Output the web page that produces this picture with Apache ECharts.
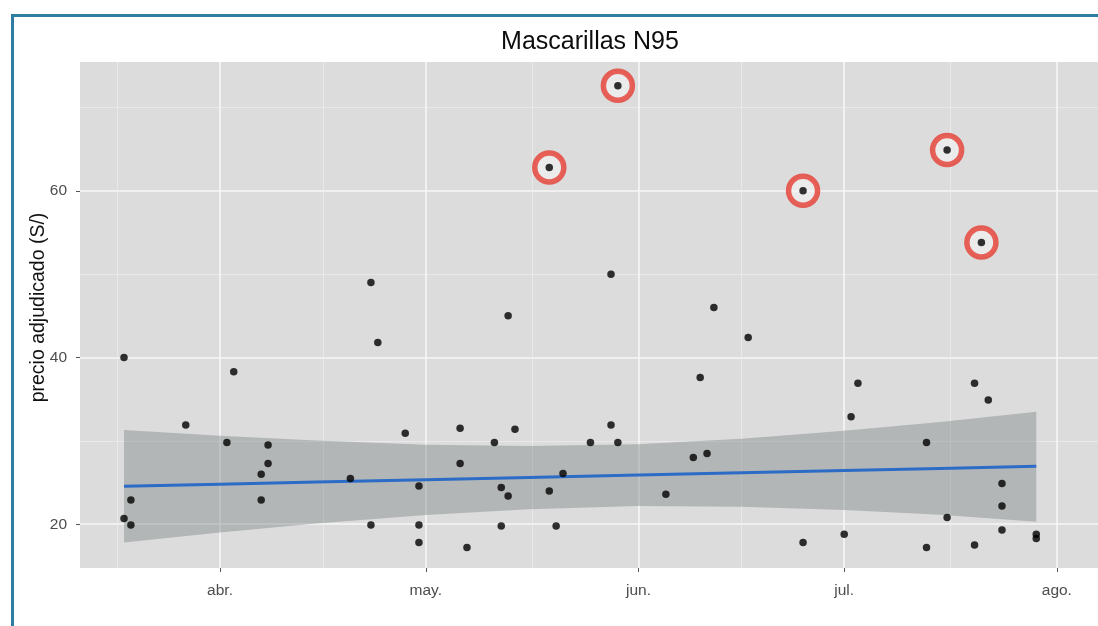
<!DOCTYPE html>
<html>
<head>
<meta charset="utf-8">
<title>Mascarillas N95</title>
<script src="https://cdn.jsdelivr.net/npm/echarts@6/dist/echarts.min.js"></script>
<style>
  html, body { margin: 0; padding: 0; background: #ffffff; }
  #chart { width: 1098px; height: 626px; }
</style>
</head>
<body>
<div id="chart"></div>
<script>
// Adjudication dates and unit prices (S/) for N95 masks
const dates = [
  '2020-03-18', '2020-03-18', '2020-03-19', '2020-03-19', '2020-03-27',
  '2020-04-02', '2020-04-03', '2020-04-07', '2020-04-07', '2020-04-08',
  '2020-04-08', '2020-04-20', '2020-04-23', '2020-04-23', '2020-04-24',
  '2020-04-28', '2020-04-30', '2020-04-30', '2020-04-30', '2020-05-06',
  '2020-05-06', '2020-05-07', '2020-05-11', '2020-05-12', '2020-05-12',
  '2020-05-13', '2020-05-13', '2020-05-14', '2020-05-19', '2020-05-19',
  '2020-05-20', '2020-05-21', '2020-05-25', '2020-05-28', '2020-05-28',
  '2020-05-29', '2020-05-29', '2020-06-05', '2020-06-09', '2020-06-10',
  '2020-06-11', '2020-06-12', '2020-06-17', '2020-06-25', '2020-06-25',
  '2020-07-01', '2020-07-02', '2020-07-03', '2020-07-13', '2020-07-13',
  '2020-07-16', '2020-07-16', '2020-07-20', '2020-07-20', '2020-07-21',
  '2020-07-22', '2020-07-24', '2020-07-24', '2020-07-24', '2020-07-29',
  '2020-07-29'
];
const prices = [
  40.0, 20.7, 22.9, 19.9, 31.9,
  29.8, 38.3, 26.0, 22.9, 29.5,
  27.3, 25.5, 49.0, 19.9, 41.8,
  30.9, 24.6, 19.9, 17.8, 31.5,
  27.3, 17.2, 29.8, 24.4, 19.8,
  45.0, 23.4, 31.4, 62.8, 24.0,
  19.8, 26.1, 29.8, 50.0, 31.9,
  72.6, 29.8, 23.6, 28.0, 37.6,
  28.5, 46.0, 42.4, 60.0, 17.8,
  18.8, 32.9, 36.9, 29.8, 17.2,
  64.9, 20.8, 36.9, 17.5, 53.8,
  34.9, 24.9, 22.2, 19.3, 18.8,
  18.3
];
// Positions (in the arrays above) of the prices marked with a red ring
const flagged = [28, 35, 43, 50, 54];

// Linear trend with its confidence band
const bandDates = ['2020-03-18', '2020-04-01', '2020-04-15', '2020-05-01', '2020-05-16',
                   '2020-06-01', '2020-06-16', '2020-07-01', '2020-07-15', '2020-07-29'];
const fitValues = [24.55, 24.80, 25.06, 25.34, 25.61, 25.90, 26.17, 26.45, 26.70, 26.95];
const bandLower = [17.8, 19.0, 20.1, 21.1, 21.8, 22.2, 22.1, 21.7, 21.15, 20.3];
const bandUpper = [31.3, 30.6, 30.05, 29.55, 29.4, 29.6, 30.25, 31.2, 32.25, 33.5];

// Axis breaks
const monthTicks = ['2020-04-01', '2020-05-01', '2020-06-01', '2020-07-01', '2020-08-01'];
const monthLabels = ['abr.', 'may.', 'jun.', 'jul.', 'ago.'];
const monthMinor = ['2020-03-17', '2020-04-16', '2020-05-16 12:00', '2020-06-16', '2020-07-16 12:00'];
const priceTicks = [20, 40, 60];
const priceMinor = [30, 50, 70];

const FONT = '"Liberation Sans", Arial, Helvetica, sans-serif';

// The x axis counts days from 1 March 2020
const ORIGIN = Date.UTC(2020, 2, 1);
function dayOf(s) {
  const m = s.match(/^(\d{4})-(\d{2})-(\d{2})(?: (\d{2}):(\d{2}))?$/);
  const t = Date.UTC(+m[1], +m[2] - 1, +m[3], m[4] ? +m[4] : 0, m[5] ? +m[5] : 0);
  return (t - ORIGIN) / 86400000;
}

const xMin = dayOf('2020-03-11 14:00');
const xMax = dayOf('2020-08-07 00:00');
const yMin = 14.75;
const yMax = 75.45;

const monthTickDays = monthTicks.map(dayOf);
const monthMinorDays = monthMinor.map(dayOf);

const chart = echarts.init(document.getElementById('chart'), null, { renderer: 'canvas' });

const majorLine = { color: '#f7f7f7', width: 1.6 };
const minorLine = { color: '#ececec', width: 0.8 };

// Confidence band: one polygon through the upper edge and back along the lower edge
function renderBand(params, api) {
  const pts = [];
  for (let i = 0; i < bandDates.length; i++) {
    pts.push(api.coord([dayOf(bandDates[i]), bandUpper[i]]));
  }
  for (let i = bandDates.length - 1; i >= 0; i--) {
    pts.push(api.coord([dayOf(bandDates[i]), bandLower[i]]));
  }
  return {
    type: 'polygon',
    shape: { points: pts },
    style: { fill: 'rgba(118, 126, 126, 0.40)' },
    silent: true
  };
}

chart.setOption({
  animation: false,
  backgroundColor: '#ffffff',
  textStyle: { fontFamily: FONT },
  title: {
    text: 'Mascarillas N95',
    left: 585,
    top: 25,
    textAlign: 'center',
    textStyle: { fontFamily: FONT, fontSize: 25, fontWeight: 'normal', color: '#0d0d0d' }
  },
  graphic: [{
    type: 'rect',
    shape: { x: 12.5, y: 15.5, width: 1200, height: 800 },
    style: { fill: 'none', stroke: '#2d7ea0', lineWidth: 3 },
    silent: true,
    z: 100
  }],
  grid: {
    left: 80, right: 0, top: 62, bottom: 58,
    show: true, backgroundColor: '#dcdcdc', borderWidth: 0,
    outerBoundsMode: 'none'
  },
  xAxis: [{
    type: 'value',
    min: xMin, max: xMax,
    axisLine: { show: false },
    axisTick: { show: true, length: 4, customValues: monthTickDays, lineStyle: { color: '#555555', width: 1 } },
    axisLabel: {
      customValues: monthTickDays,
      margin: 15,
      fontFamily: FONT, fontSize: 15.5, color: '#4d4d4d',
      formatter: function (value) {
        const idx = monthTickDays.indexOf(value);
        return idx >= 0 ? monthLabels[idx] : '';
      }
    },
    splitLine: { show: true, lineStyle: majorLine }
  }, {
    type: 'value',
    position: 'top',
    min: xMin, max: xMax,
    axisLine: { show: false },
    axisTick: { show: false, customValues: monthMinorDays },
    axisLabel: { show: false, customValues: monthMinorDays },
    splitLine: { show: true, lineStyle: minorLine }
  }],
  yAxis: [{
    type: 'value',
    min: yMin, max: yMax,
    name: 'precio adjudicado (S/)',
    nameLocation: 'middle',
    nameGap: 31,
    nameMoveOverlap: false,
    nameTextStyle: { fontFamily: FONT, fontSize: 19.5, color: '#111111', padding: [0, 0, 0, 15] },
    axisLine: { show: false },
    axisTick: { show: true, length: 4, customValues: priceTicks, lineStyle: { color: '#555555', width: 1 } },
    axisLabel: { customValues: priceTicks, margin: 13, fontFamily: FONT, fontSize: 15.5, color: '#4d4d4d' },
    splitLine: { show: true, lineStyle: majorLine }
  }, {
    type: 'value',
    position: 'right',
    min: yMin, max: yMax,
    axisLine: { show: false },
    axisTick: { show: false, customValues: priceMinor },
    axisLabel: { show: false, customValues: priceMinor },
    splitLine: { show: true, lineStyle: minorLine }
  }],
  series: [
    {
      name: 'ic',
      type: 'custom',
      renderItem: renderBand,
      data: [0],
      silent: true,
      clip: true,
      z: 2
    },
    {
      name: 'tendencia',
      type: 'line',
      symbol: 'none',
      silent: true,
      lineStyle: { color: '#2c6cc6', width: 3 },
      data: bandDates.map((d, i) => [dayOf(d), fitValues[i]]),
      z: 3
    },
    {
      name: 'marcados',
      type: 'scatter',
      symbol: 'circle',
      symbolSize: 29,
      silent: true,
      itemStyle: { color: 'rgba(246, 246, 246, 0.7)', borderColor: '#e53d33', borderWidth: 5.5 },
      data: flagged.map(i => [dayOf(dates[i]), prices[i]]),
      z: 4
    },
    {
      name: 'precio',
      type: 'scatter',
      symbol: 'circle',
      symbolSize: 7.5,
      itemStyle: { color: '#000000' },
      data: dates.map((d, i) => [dayOf(d), prices[i]]),
      z: 5
    }
  ]
});
</script>
</body>
</html>
